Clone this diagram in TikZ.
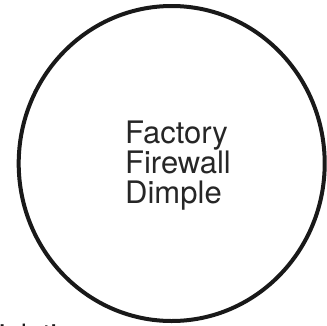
\documentclass[tikz,border=0pt]{standalone}
\usepackage{fontspec}
\setmainfont{TeX Gyre Heros}
\usetikzlibrary{shapes.geometric}
\tikzset{
  ring/.style={ellipse, draw=black!90, line width=4pt, minimum width=306pt, minimum height=315pt, inner sep=0pt},
  wordstack/.style={align=left, inner sep=0pt, font=\fontsize{31}{30}\selectfont, text=black!85},
  cuttext/.style={anchor=base west, inner sep=0pt, font=\fontsize{28}{30}\selectfont, text=black!90}
}

\begin{document}
\begin{tikzpicture}[x=1pt, y=-1pt]
  \useasboundingbox (0,0) rectangle (327,325);
  \node[ring] (dimple) at (171.7,163.5) {};
  \node[wordstack] (label) at (178,166) {Factory\\Firewall\\Dimple};
  \node[cuttext] (below) at (-1,344) {ialatio};
\end{tikzpicture}
\end{document}
